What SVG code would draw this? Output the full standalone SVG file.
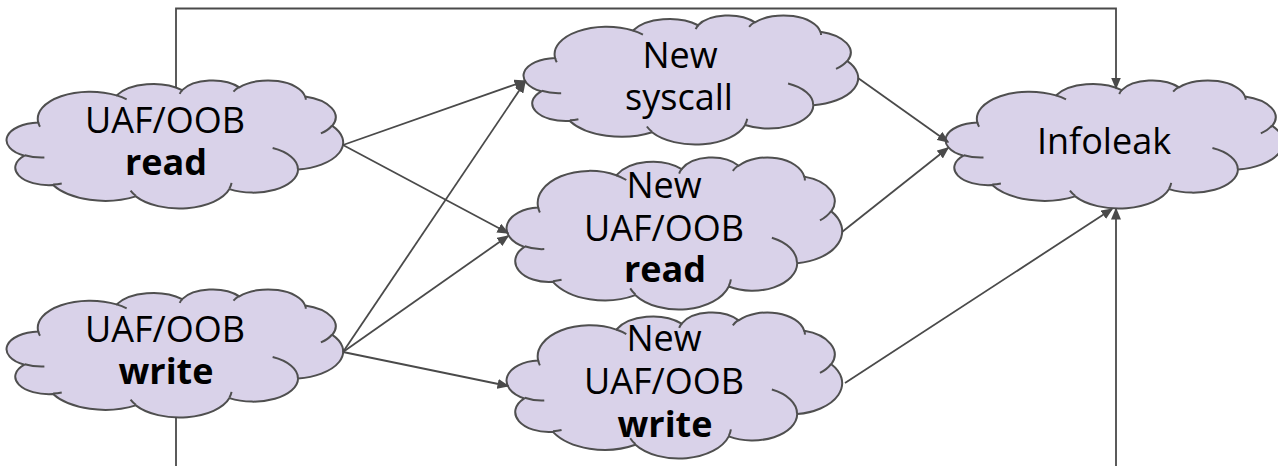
<svg xmlns="http://www.w3.org/2000/svg" xmlns:xlink="http://www.w3.org/1999/xlink" width="1278" height="466" viewBox="0 0 1278 466">
  <style>
    .cloud-body { fill: #d9d2e9; stroke: #4f4f4f; stroke-width: 2; vector-effect: non-scaling-stroke; }
    .cloud-fold { fill: none; stroke: #4f4f4f; stroke-width: 2; vector-effect: non-scaling-stroke; }
    .label { font-family: "Open Sans", "Noto Sans", "Liberation Sans", sans-serif; font-size: 36px; fill: #000; text-anchor: middle; }
    .bold { font-weight: bold; }
    .edge { fill: none; stroke: #4a4a4a; stroke-width: 1.8; marker-end: url(#arrow); }
  </style>
  <defs>
    <marker id="arrow" viewBox="0 0 12 10" refX="10.5" refY="5" markerWidth="12" markerHeight="10" markerUnits="userSpaceOnUse" orient="auto">
      <path d="M0,0 L12,5 L0,10 z" fill="#4a4a4a"/>
    </marker>
    <!-- cloud outline in a 100x100 box -->
    <g id="cloud">
      <path class="cloud-body" d="M9.03,33.26 A15.63,21.27 0 0 1 32.42,12.04 A12.34,16.82 0 0 1 51.98,7.94 A10.10,13.76 0 0 1 69.06,5.74 A11.24,15.27 0 0 1 88.70,12.91 A12.34,16.84 0 0 1 96.81,35.79 A15.68,21.34 0 0 1 86.59,69.91 A13.39,18.21 0 0 1 66.10,85.22 A15.63,21.33 0 0 1 38.15,90.90 A17.87,24.41 0 0 1 13.44,82.11 A10.09,13.70 0 0 1 4.89,59.14 A10.06,13.76 0 0 1 9.03,33.26 Z"/>
      <path class="cloud-fold" d="M10.86,60.59 A10.06,13.76 0 0 1 5.0,58.75 M16.04,80.78 A10.09,13.70 0 0 1 13.47,81.67 M38.14,90.49 A15.63,21.33 0 0 1 36.59,86.45 M66.73,80.44 A15.63,21.33 0 0 1 66.11,84.86 M79.00,53.13 A13.39,18.21 0 0 1 86.53,69.65 M96.75,35.54 A12.34,16.84 0 0 1 93.40,41.74 M88.71,12.56 A11.24,15.27 0 0 1 88.89,15.49 M67.31,9.15 A11.24,15.27 0 0 1 69.03,5.42 M51.25,10.93 A10.10,13.76 0 0 1 52.08,7.71 M32.41,12.02 A15.63,21.27 0 0 1 35.42,15.14 M9.55,36.55 A15.63,21.27 0 0 1 9.03,33.27"/>
    </g>
  </defs>

  <g id="uaf-read">
    <use href="#cloud" xlink:href="#cloud" transform="translate(8,80) scale(3.35,1.28)"/>
    <text class="label" x="165" y="133">UAF/OOB</text>
    <text class="label bold" x="166" y="175">read</text>
  </g>

  <g id="uaf-write">
    <use href="#cloud" xlink:href="#cloud" transform="translate(8,289) scale(3.35,1.28)"/>
    <text class="label" x="165" y="342">UAF/OOB</text>
    <text class="label bold" x="166" y="384">write</text>
  </g>

  <g id="new-syscall">
    <use href="#cloud" xlink:href="#cloud" transform="translate(525,15) scale(3.33,1.29)"/>
    <text class="label" x="680" y="68">New</text>
    <text class="label" x="679" y="110">syscall</text>
  </g>

  <g id="new-uaf-read">
    <use href="#cloud" xlink:href="#cloud" transform="translate(508,157) scale(3.34,1.52)"/>
    <text class="label" x="664" y="198">New</text>
    <text class="label" x="664" y="241">UAF/OOB</text>
    <text class="label bold" x="665" y="282">read</text>
  </g>

  <g id="new-uaf-write">
    <use href="#cloud" xlink:href="#cloud" transform="translate(508,312) scale(3.34,1.46)"/>
    <text class="label" x="664" y="351">New</text>
    <text class="label" x="664" y="394">UAF/OOB</text>
    <text class="label bold" x="665" y="437">write</text>
  </g>

  <g id="infoleak">
    <use href="#cloud" xlink:href="#cloud" transform="translate(947,80) scale(3.36,1.28)"/>
    <text class="label" x="1104" y="154">Infoleak</text>
  </g>

  <g id="connectors">
    <path class="edge" d="M176,88 V8.5 H1116 V88"/>
    <path class="edge" d="M176,417 V490 H1116 V209"/>
    <path class="edge" d="M343,145 L525,81"/>
    <path class="edge" d="M343,145 L508,233"/>
    <path class="edge" d="M343,352 L525,82"/>
    <path class="edge" d="M343,352 L508,236"/>
    <path class="edge" d="M343,352 L508,386"/>
    <path class="edge" d="M858,78 L948,142"/>
    <path class="edge" d="M842,232 L948,148"/>
    <path class="edge" d="M845,383 L1112,209"/>
  </g>
</svg>
